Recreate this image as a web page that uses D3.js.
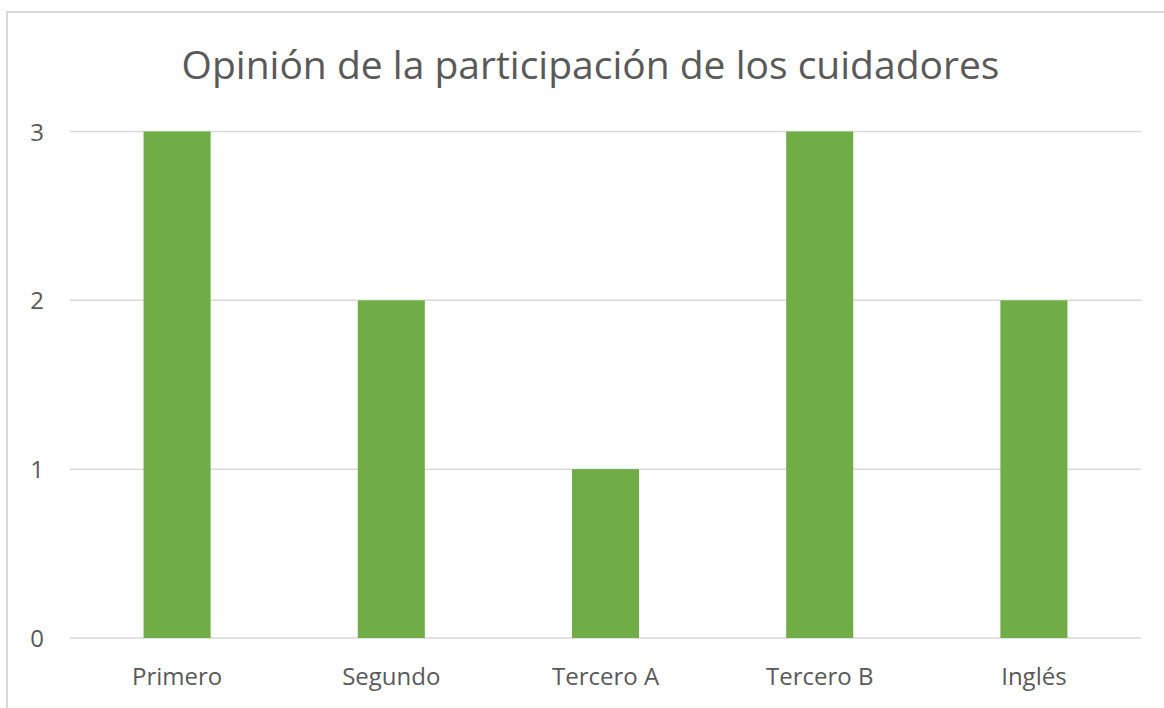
<!DOCTYPE html>
<html><head><meta charset="utf-8">
<script src="https://cdn.jsdelivr.net/npm/d3@7"></script>
<style>html,body{margin:0;padding:0;background:#fff;overflow:hidden}</style>
</head><body>
<svg id="c" width="1164" height="708"></svg>
<script>
const categories = ["Primero", "Segundo", "Tercero A", "Tercero B", "Inglés"];
const values = [3, 2, 1, 3, 2];
const yTicks = [0, 1, 2, 3];
const title = "Opinión de la participación de los cuidadores";

(function () {
const svg = d3.select("#c");
const font = "'Open Sans', 'Noto Sans', sans-serif";
svg.append("rect").attr("x", 7).attr("y", 12).attr("width", 1180).attr("height", 720)
  .attr("fill", "#fff").attr("stroke", "#d9d9d9").attr("stroke-width", 2);

const pl = 70, pr = 1141, pt = 131.5, pb = 638;
const x = d3.scaleBand().domain(categories).range([pl, pr]).paddingInner(0.687).paddingOuter(0.3435);
const y = d3.scaleLinear().domain([0, 3]).range([pb, pt]);

const g = svg.append("g");
g.selectAll("line.grid").data(yTicks).enter().append("line")
  .attr("x1", pl).attr("x2", pr)
  .attr("y1", d => y(d)).attr("y2", d => y(d))
  .attr("stroke", "#d9d9d9").attr("stroke-width", 1.5);

g.selectAll("rect.bar").data(values).enter().append("rect")
  .attr("x", (d, i) => x(categories[i]))
  .attr("width", x.bandwidth())
  .attr("y", d => y(d)).attr("height", d => y(0) - y(d))
  .attr("fill", "#70ad47");

const yAxis = d3.axisLeft(y).tickValues(yTicks).tickSize(0).tickPadding(0).tickFormat(d3.format("d"));
const ya = svg.append("g").attr("transform", `translate(44,0)`).call(yAxis);
ya.select(".domain").remove();
ya.selectAll("text").attr("font-family", font).attr("font-size", 24).attr("fill", "#595959")
  .attr("text-anchor", "end").attr("dy", "0.36em");

const xAxis = d3.axisBottom(x).tickSize(0).tickPadding(0);
const xa = svg.append("g").attr("transform", `translate(0,668)`).call(xAxis);
xa.select(".domain").remove();
xa.selectAll("text").attr("font-family", font).attr("font-size", 24).attr("fill", "#595959").attr("dy", "0.71em");

svg.append("text").attr("x", 590.5).attr("y", 79).attr("text-anchor", "middle")
  .attr("font-family", font).attr("font-size", 39).attr("fill", "#595959").text(title);
})();
</script>
</body></html>
